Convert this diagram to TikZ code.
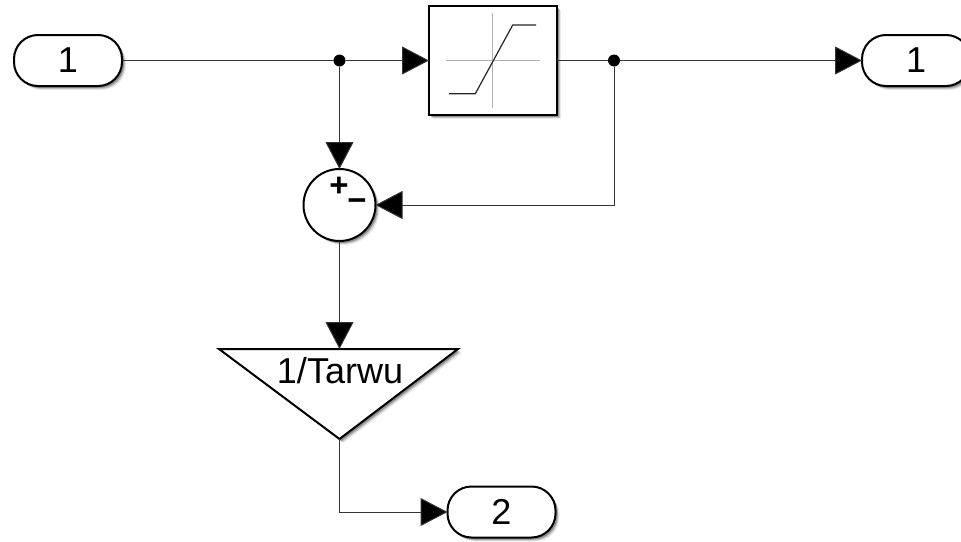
\documentclass[tikz,border=0pt]{standalone}
\usepackage{fontspec}
\setmainfont{Liberation Sans}
\usetikzlibrary{arrows.meta,shadows}
\tikzset{
  softshadow/.style={
    general shadow={shadow xshift=4pt,shadow yshift=-4pt,fill=black,opacity=.08},
    general shadow={shadow xshift=3pt,shadow yshift=-3pt,fill=black,opacity=.16},
    general shadow={shadow xshift=2pt,shadow yshift=-2pt,fill=black,opacity=.28}},
  port/.style={draw=black,line width=2pt,fill=white,rounded corners=24pt,minimum width=108pt,minimum height=51pt,inner sep=0pt,outer sep=0pt,softshadow,font=\fontsize{36}{40}\selectfont},
  satblock/.style={draw=black,line width=2.5pt,fill=white,minimum width=128pt,minimum height=109pt,inner sep=0pt,outer sep=0pt,softshadow},
  sumblock/.style={circle,draw=black,line width=2pt,fill=white,minimum size=72pt,inner sep=0pt,outer sep=0pt,softshadow},
  junction/.style={circle,fill=black,minimum size=12pt,inner sep=0pt,outer sep=0pt},
  gainshape/.style={draw=black,line width=2pt,fill=white,line join=miter,softshadow},
  gaintext/.style={font=\fontsize{36}{40}\selectfont,inner sep=0pt,anchor=base},
  signtext/.style={font=\fontsize{33}{40}\selectfont\bfseries,inner sep=0pt},
  wire/.style={line width=1pt,draw=black!80},
  sig/.style={wire,-{Triangle[length=27pt,width=28pt,fill=black]}},
  satAxis/.style={line width=1pt,draw=black!30},
  satCurve/.style={line width=1.2pt,draw=black!85}
}
\begin{document}
\begin{tikzpicture}[x=1pt,y=-1pt]
\useasboundingbox (0,0) rectangle (961,541);
\node[port] (in1) at (68,60.5) {1};
\node[port] (out1) at (916,60.5) {1};
\node[port] (out2) at (501.5,512) {2};
\node[satblock] (sat) at (493,60.5) {};
\node[sumblock] (sum) at (339.5,205) {};
\node[signtext] (plus) at (339,187) {+};
\node[signtext] (minus) at (357,205) {−};
\coordinate (gaintop) at (339.5,349);
\coordinate (gaintip) at (339.5,439);
\draw[gainshape] (219,349) -- (458,349) -- (gaintip) -- cycle;
\node[gaintext] (gainlabel) at (340,383) {1/Tarwu};
\draw[satAxis] (446,60.5) -- (540,60.5);
\draw[satAxis] (492.7,13) -- (492.7,108);
\draw[satCurve] (449,93.7) -- (475.3,93.7) -- (512.7,25) -- (536,25);
\node[junction] (j1) at (339.5,60.5) {};
\node[junction] (j2) at (614,60.5) {};
\draw[wire] (in1.east) -- (j1);
\draw[sig] (j1) -- (sat.west);
\draw[wire] (sat.east) -- (j2);
\draw[sig] (j2) -- (out1.west);
\draw[sig] (j1) -- (sum.north);
\draw[sig] (j2) |- (sum.east);
\draw[sig] (sum.south) -- (gaintop);
\draw[sig] (gaintip) |- (out2.west);
\end{tikzpicture}
\end{document}
